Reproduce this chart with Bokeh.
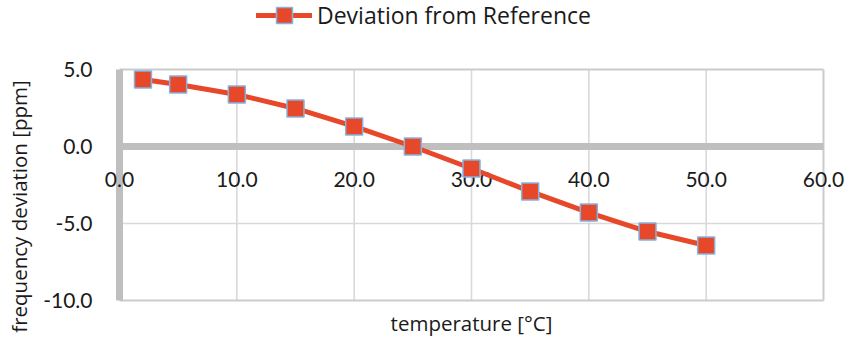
from math import pi
from bokeh.plotting import figure
from bokeh.models import FixedTicker, PrintfTickFormatter, Legend, LegendItem, Label, Range1d, ColumnDataSource
from bokeh.embed import file_html
from bokeh.resources import INLINE

# ---- data ----
temperature = [2, 5, 10, 15, 20, 25, 30, 35, 40, 45, 50]
deviation = [4.35, 4.03, 3.38, 2.47, 1.30, 0.0, -1.43, -2.92, -4.29, -5.52, -6.43]
x_ticks = [0, 10, 20, 30, 40, 50, 60]
y_ticks = [-10, -5, 0, 5]
series_name = "Deviation from Reference"
x_title = "temperature [°C]"
y_title = "frequency deviation [ppm]"

# ---- layout (pixels) ----
W, H = 852, 338
AREA_L, AREA_R, AREA_T, AREA_B = 119, 823, 69, 300   # plot-area box on the canvas
X0, X1 = x_ticks[0], x_ticks[-1]
Y0, Y1 = y_ticks[0], y_ticks[-1]
sx = (AREA_R - AREA_L) / (X1 - X0)
sy = (AREA_B - AREA_T) / (Y1 - Y0)
x_range = Range1d(X0 - AREA_L / sx, X1 + (W - AREA_R) / sx)
y_range = Range1d(Y0 - (H - AREA_B) / sy, Y1 + AREA_T / sy)


def dx(px):
    return x_range.start + px / sx


def dy(py):
    return y_range.end - py / sy


TICK_FONT = "Lato"
TITLE_FONT = "Open Sans"
TEXT = "#1a1a1a"
RED = "#E8482A"
EDGE = "#86B2E0"
AXIS = "#bfbfbf"
GRID = "#d9d9d9"
BORDER = "#cbcbcb"

src = ColumnDataSource(dict(t=temperature, d=deviation))

p = figure(width=W, height=H, output_backend="svg", toolbar_location=None,
           x_range=x_range, y_range=y_range, min_border=0,
           min_border_left=0, min_border_right=0, min_border_top=0, min_border_bottom=0)
p.background_fill_color = "white"
p.border_fill_color = "white"
p.outline_line_color = None
p.xgrid.visible = False
p.ygrid.visible = False

# gridlines limited to the plot area (derived from the tick lists)
vx = x_ticks[1:-1]
p.segment(x0=vx, y0=[Y0] * len(vx), x1=vx, y1=[Y1] * len(vx),
          line_color=GRID, line_width=1.6, level="image")
hy = [t for t in y_ticks[1:-1] if t != 0]
p.segment(x0=[X0] * len(hy), y0=hy, x1=[X1] * len(hy), y1=hy,
          line_color=GRID, line_width=1.6, level="image")
# plot-area border: top, bottom, right
p.segment(x0=[X0, X0, X1], y0=[Y1, Y0, Y0], x1=[X1, X1, X1], y1=[Y1, Y0, Y1],
          line_color=BORDER, line_width=2, level="image")

xa = p.xaxis[0]
xa.ticker = FixedTicker(ticks=x_ticks)
xa.formatter = PrintfTickFormatter(format="%.1f")
xa.fixed_location = 0
xa.bounds = (X0, X1)
xa.axis_line_color = AXIS
xa.axis_line_width = 7
xa.major_tick_line_color = None
xa.minor_tick_line_color = None
xa.major_label_standoff = 19
xa.major_label_text_font = TICK_FONT
xa.major_label_text_font_size = "21px"
xa.major_label_text_color = TEXT

ya = p.yaxis[0]
ya.ticker = FixedTicker(ticks=y_ticks)
ya.formatter = PrintfTickFormatter(format="%.1f")
ya.fixed_location = X0
ya.bounds = (Y0, Y1)
ya.axis_line_color = AXIS
ya.axis_line_width = 7
ya.major_tick_line_color = None
ya.minor_tick_line_color = None
ya.major_label_standoff = 21
ya.major_label_text_font = TICK_FONT
ya.major_label_text_font_size = "21px"
ya.major_label_text_color = TEXT
ya.level = "underlay"

r_line = p.line("t", "d", source=src, line_color=RED, line_width=5,
                line_join="round", line_cap="round", level="overlay")
r_pts = p.scatter("t", "d", source=src, marker="square", size=17, fill_color=RED,
                  line_color=EDGE, line_width=1.5, level="overlay")

LEG_H = 40
legend = Legend(items=[LegendItem(label=series_name, renderers=[r_line, r_pts])],
                location=(256, H - LEG_H + 5), orientation="horizontal",
                glyph_width=56, glyph_height=LEG_H, label_height=LEG_H,
                padding=0, margin=0, spacing=0, label_standoff=5,
                border_line_color=None, background_fill_alpha=0,
                label_text_font=TITLE_FONT, label_text_font_size="23px", label_text_color=TEXT)
p.add_layout(legend)

p.add_layout(Label(x=(X0 + X1) / 2, y=dy(322), text=x_title, text_align="center",
                   text_baseline="middle", text_font=TITLE_FONT, text_font_size="20.5px",
                   text_color=TEXT))
p.add_layout(Label(x=dx(18), y=dy(206), text=y_title, angle=pi / 2, text_align="center",
                   text_baseline="middle", text_font=TITLE_FONT, text_font_size="20.5px",
                   text_color=TEXT))

open("out.html", "w").write(file_html(p, INLINE))
